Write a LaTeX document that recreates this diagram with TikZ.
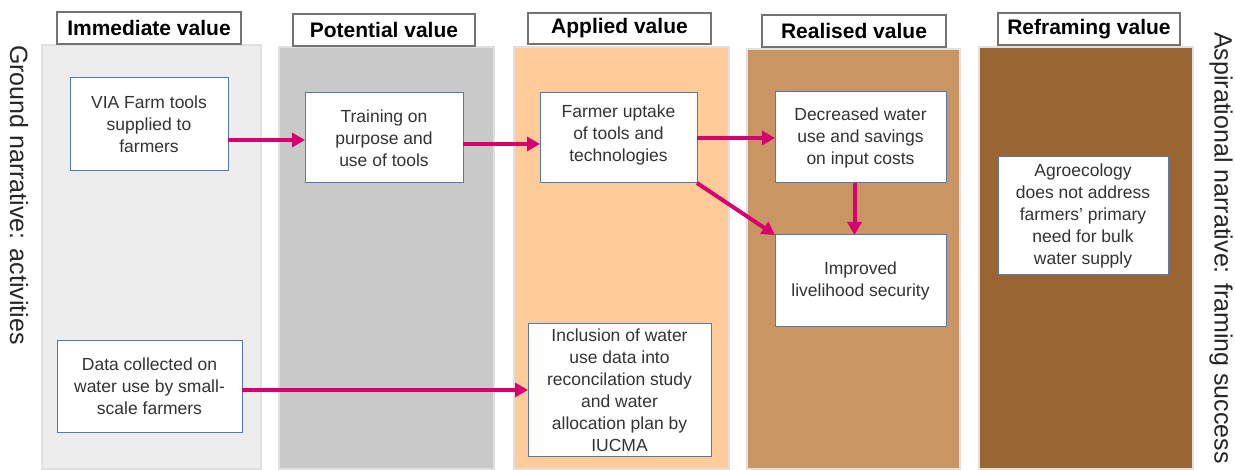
\documentclass[tikz,border=0pt]{standalone}
\usepackage{fontspec}
\setmainfont{Liberation Sans}
\usetikzlibrary{arrows.meta,calc}

% stage colours, light to dark
\definecolor{stageA}{RGB}{237,237,237}
\definecolor{stageB}{RGB}{201,201,201}
\definecolor{stageC}{RGB}{255,203,153}
\definecolor{stageD}{RGB}{201,150,99}
\definecolor{stageE}{RGB}{153,102,51}
\definecolor{boxline}{RGB}{84,120,180}
\definecolor{flow}{RGB}{214,0,112}

\begin{document}
\begin{tikzpicture}[x=1pt,y=-1pt,
  column/.style={draw=black!12, line width=1.5pt, inner sep=0pt, outer sep=0pt, anchor=north west},
  header/.style={draw=black!55, line width=1.2pt, fill=white, inner sep=0pt, outer sep=0pt,
    anchor=north west, font=\fontsize{21}{25}\selectfont\bfseries},
  stepbox/.style={draw=boxline, line width=1pt, fill=white, text=black!80, inner sep=0pt,
    outer sep=0pt, align=center, anchor=north west, font=\fontsize{17.5}{22}\selectfont},
  side/.style={text=black!85, font=\fontsize{25}{30}\selectfont, rotate=-90, inner sep=0pt},
  flowarrow/.style={draw=flow, line width=4pt, -{Triangle[length=13pt,width=14pt]}}]
\useasboundingbox (0,0) rectangle (1235,470);

% value stages (columns)
\node[column, fill=stageA, minimum width=219pt, minimum height=424pt] (c1) at (42,45) {};
\node[column, fill=stageB, minimum width=215pt, minimum height=422pt] (c2) at (279,47) {};
\node[column, fill=stageC, minimum width=215pt, minimum height=422pt] (c3) at (514,47) {};
\node[column, fill=stageD, minimum width=213pt, minimum height=420pt] (c4) at (747,49) {};
\node[column, fill=stageE, minimum width=214pt, minimum height=422pt] (c5) at (979,47) {};

% stage titles
\node[header, minimum width=184pt, minimum height=32pt] (h1) at (57,12) {Immediate value};
\node[header, minimum width=182pt, minimum height=32pt] (h2) at (293,14) {Potential value};
\node[header, minimum width=183pt, minimum height=31pt] (h3) at (528,13) {Applied value};
\node[header, minimum width=184pt, minimum height=32pt] (h4) at (762,15) {Realised value};
\node[header, minimum width=182pt, minimum height=32pt] (h5) at (998,13) {Reframing value};

% narrative labels
\node[side] (gnd) at (19,195) {Ground narrative: activities};
\node[side] (asp) at (1221,248) {Aspirational narrative: framing success};

% activities and outcomes
\node[stepbox, minimum width=158pt, minimum height=93pt] (b1) at (70,78)
  {VIA Farm tools\\supplied to\\farmers};
\node[stepbox, minimum width=158pt, minimum height=90pt] (b2) at (305,93)
  {Training on\\purpose and\\use of tools};
\node[stepbox, minimum width=157pt, minimum height=90pt] (b3) at (540,93)
  {Farmer uptake\\of tools and\\technologies\\[-12pt]};
\node[stepbox, minimum width=171pt, minimum height=91pt] (b4) at (775,92)
  {Decreased water\\use and savings\\on input costs};
\node[stepbox, minimum width=171pt, minimum height=92pt] (b5) at (775,235)
  {Improved\\livelihood security};
\node[stepbox, minimum width=170pt, minimum height=118pt] (b6) at (998,157)
  {Agroecology\\does not address\\farmers' primary\\need for bulk\\water supply};
\node[stepbox, minimum width=185pt, minimum height=91pt] (b7) at (57,341)
  {Data collected on\\water use by small-\\scale farmers};
\node[stepbox, minimum width=183pt, minimum height=132pt] (b8) at (528,324)
  {Inclusion of water\\use data into\\reconcilation study\\and water\\allocation plan by\\IUCMA};

% flows between stages
\coordinate (f1) at ([yshift=-15.5pt]b1.east);
\draw[flowarrow] (f1) -- (f1 -| b2.west);
\draw[flowarrow] ([yshift=-6pt]b2.east) -- ([yshift=-6pt]b3.west);
\draw[flowarrow] (b3.east) -- (b3.east -| b4.west);
\draw[flowarrow] (b3.south east) -- (b5.north west);
\draw[flowarrow] ([xshift=-6pt]b4.south) -- ([xshift=-6pt]b5.north);
\draw[flowarrow] (b7.east |- b8.west) -- (b8.west);
\end{tikzpicture}
\end{document}
